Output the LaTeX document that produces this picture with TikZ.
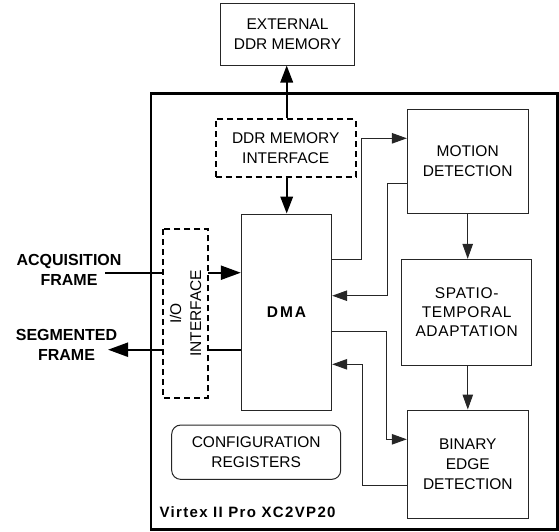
\documentclass[tikz,border=0pt]{standalone}
\usepackage{fontspec}
\setmainfont{Liberation Sans}
\usetikzlibrary{arrows.meta,calc}
\begin{document}
\begin{tikzpicture}[x=1pt,y=-1pt,
  every node/.style={font=\fontsize{15.5}{20}\selectfont, inner sep=0pt, align=center},
  blk/.style={draw=black!85, line width=1pt, fill=white},
  dbox/.style={draw=black, line width=2pt, dash pattern=on 6pt off 4pt, fill=white},
  conn/.style={draw=black!85, line width=1pt, -{Triangle[length=15pt,width=10.5pt]}},
  memarr/.style={draw=black, line width=2pt, -{Triangle[length=17pt,width=12.5pt]}},
  bigarr/.style={draw=black, line width=2.2pt, -{Triangle[length=20pt,width=14pt]}},
  lbl/.style={font=\fontsize{16}{20}\selectfont\bfseries}
]
\useasboundingbox (0,0) rectangle (559,531);

% outer chip
\node[draw=black, line width=2.5pt, minimum width=406.7pt, minimum height=436pt] (chip) at (354.35,311.3) {};
\node[anchor=west, font=\fontsize{15}{18}\selectfont\bfseries\addfontfeatures{LetterSpace=9}] (virtex) at (159.3,512) {Virtex II Pro XC2VP20};

% blocks
\node[blk, minimum width=133.3pt, minimum height=61.5pt] (ext) at (287.5,34.25) {EXTERNAL\\DDR MEMORY};
\node[blk, minimum width=90.4pt, minimum height=196pt] (dma) at (286.5,312) {};
\node[font=\fontsize{15.5}{20}\selectfont\bfseries\addfontfeatures{LetterSpace=12}] at (dma.center) {DMA};
\node[blk, minimum width=120.7pt, minimum height=104.1pt] (motion) at (467.7,161.25) {MOTION\\DETECTION};
\node[blk, minimum width=130pt, minimum height=105.7pt, font=\fontsize{15.5}{19}\selectfont\addfontfeatures{LetterSpace=4}] (spatio) at (466.7,312.15) {SPATIO-\\TEMPORAL\\ADAPTATION};
\node[blk, minimum width=121pt, minimum height=108.3pt] (binary) at (467.8,464.15) {BINARY\\EDGE\\DETECTION};
\node[blk, rounded corners=9pt, minimum width=169pt, minimum height=54.3pt] (config) at (256.2,452.2) {CONFIGURATION\\REGISTERS};

% connectors (thin)
\draw[conn] ([yshift=52.7pt]dma.east) -| ([xshift=-45pt,yshift=22.95pt]motion.west) -- ([yshift=22.95pt]motion.west);
\draw[conn] ([yshift=-22pt]motion.west) -| ([xshift=55pt,yshift=16.3pt]dma.east) -- ([yshift=16.3pt]dma.east);
\draw[conn] ([yshift=-19.7pt]dma.east) -| ([xshift=-20.6pt,yshift=24.85pt]binary.west) -- ([yshift=24.85pt]binary.west);
\draw[conn] ([yshift=-21.55pt]binary.west) -| ([xshift=30.6pt,yshift=-52.3pt]dma.east) -- ([yshift=-52.3pt]dma.east);
\draw[conn] (motion.south) -- (motion.south |- spatio.north);
\draw[conn] (binary.north |- spatio.south) -- (binary.north);

% I/O arrows
\coordinate (acqstart) at (105,272.7);
\coordinate (segend) at (108,349.7);
\draw[bigarr] (acqstart) -- (dma.west |- acqstart);
\draw[bigarr] (dma.west |- segend) -- (segend);

% memory interface
\node[dbox, minimum width=140pt, minimum height=57.7pt] (ddrif) at (285.7,147.9) {DDR MEMORY\\INTERFACE};
\draw[memarr] ([xshift=1pt]ddrif.north) -- ([xshift=1pt]ddrif.north |- ext.south);
\draw[memarr] ([xshift=1pt]ddrif.south) -- ([xshift=1pt]ddrif.south |- dma.north);

% I/O interface
\node[dbox, rotate=90, minimum width=168.7pt, minimum height=45pt] (io) at (185.5,313.35) {I/O\\INTERFACE};

% side labels
\node[lbl] (acq) at (69,270) {ACQUISITION\\FRAME};
\node[lbl] (seg) at (66.5,344.5) {SEGMENTED\\FRAME};
\end{tikzpicture}
\end{document}
